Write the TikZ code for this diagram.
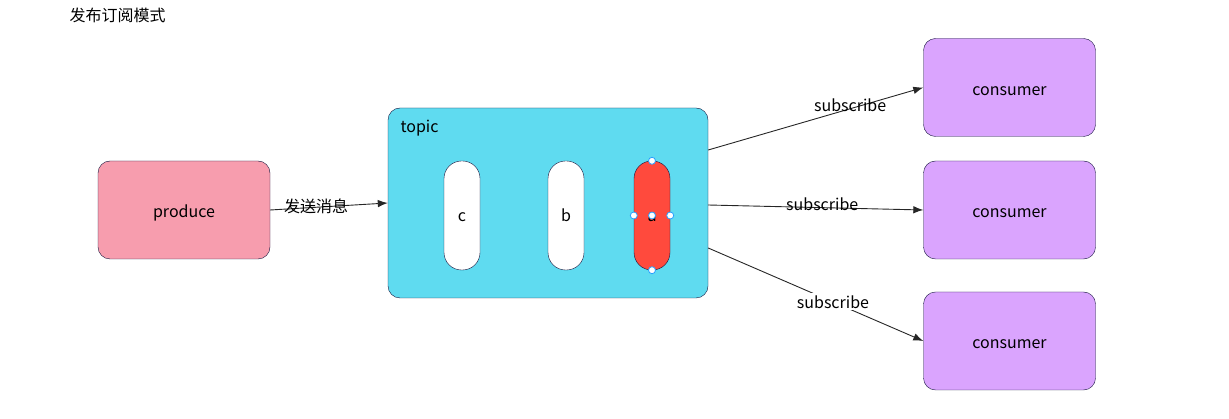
\documentclass[tikz,border=0pt]{standalone}
\usepackage{fontspec}
\setmainfont{Noto Sans CJK SC}
\usepackage{xcolor}
\usepackage{tikz}
\usetikzlibrary{positioning,arrows.meta}

\definecolor{prodpink}{RGB}{247,157,174}
\definecolor{topiccyan}{RGB}{95,219,240}
\definecolor{conslilac}{RGB}{218,164,254}
\definecolor{msgred}{RGB}{255,74,61}
\definecolor{edgenavy}{RGB}{20,20,60}
\definecolor{handleblue}{RGB}{41,160,255}

\begin{document}
\begin{tikzpicture}[x=1pt,y=-1pt,font=\fontsize{16}{19}\selectfont,>={Latex[length=10pt,width=7.5pt]},
  box/.style={rectangle,draw=edgenavy,rounded corners=12pt,minimum width=172pt,minimum height=98pt,inner sep=0pt,text height=20pt,text depth=4pt},
  pill/.style={rectangle,draw=edgenavy,rounded corners=17.5pt,minimum width=36pt,minimum height=109pt,inner sep=0pt,text height=16pt,text depth=4pt},
  link/.style={draw=black!85,line width=0.9pt},
  handle/.style={circle,draw=handleblue,fill=white,line width=0.8pt,minimum size=7pt,inner sep=0pt}]
\useasboundingbox (0,0) rectangle (1229,419);
% title
\node[anchor=west] (title) at (66,15) {发布订阅模式};
% producer side
\node[box,fill=prodpink] (produce) at (184,210) {produce};
% topic with its messages
\node[box,fill=topiccyan,minimum width=320pt,minimum height=190pt] (topic) at (548,203) {};
\node[anchor=west] (topiclbl) at (397,128.5) {topic};
\node[pill,fill=white] (c) at (462,215.5) {c};
\node[pill,fill=white] (b) at (566,215.5) {b};
\node[pill,fill=msgred] (a) at (652,215.5) {a};
% selection handles on a
\node[handle] (ha1) at (a.north) {};
\node[handle] (ha2) at (a.south) {};
\node[handle] (ha3) at (a.west) {};
\node[handle] (ha4) at (a.east) {};
\node[handle] (ha5) at (a.center) {};
% consumers
\node[box,fill=conslilac] (cons1) at (1009.5,87.5) {consumer};
\node[box,fill=conslilac] (cons2) at (1009.5,210) {consumer};
\node[box,fill=conslilac] (cons3) at (1009.5,341) {consumer};
% connectors
\draw[link,->] (produce.east) -- node[pos=0.39,yshift=0.5pt,inner sep=0pt]{发送消息} (topic.west);
\draw[link,->] ([yshift=53pt]topic.east) -- node[pos=0.66,yshift=4pt,inner sep=0pt]{subscribe} (cons1.west);
\draw[link,->] ([yshift=-2pt]topic.east) -- node[pos=0.53,yshift=3pt,inner sep=0pt]{subscribe} (cons2.west);
\draw[link,->] ([yshift=-45pt]topic.east) -- node[pos=0.58,fill=white,inner sep=2pt]{subscribe} (cons3.west);
\end{tikzpicture}
\end{document}
